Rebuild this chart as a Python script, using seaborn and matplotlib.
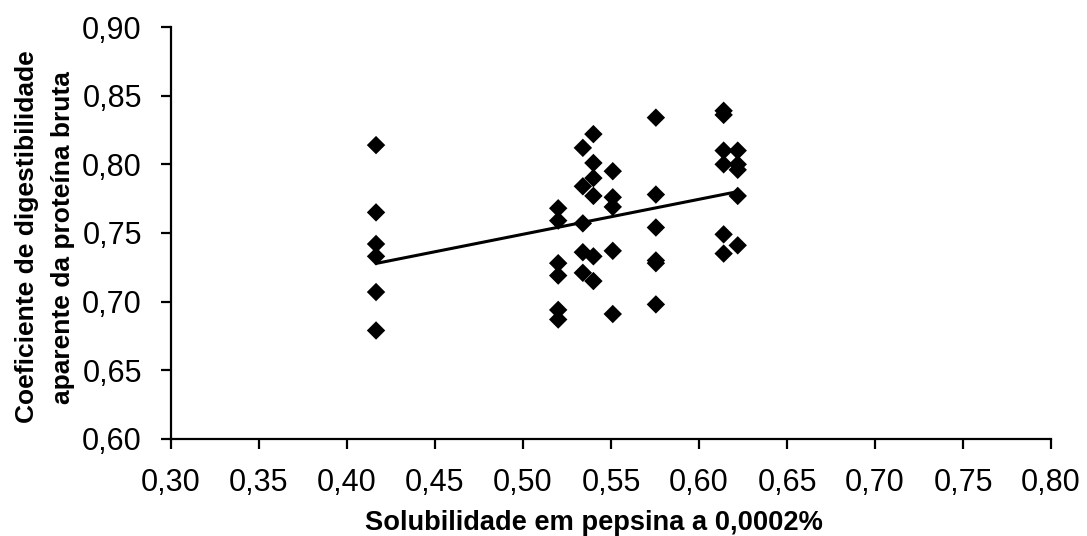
import numpy as np
import pandas as pd
import matplotlib
matplotlib.use('Agg')
import matplotlib.pyplot as plt
import seaborn as sns
from matplotlib.ticker import FuncFormatter

# valores (solubilidade, coeficiente de digestibilidade)
sol_041 = [0.4165] * 6
cd_041 = [0.814, 0.765, 0.742, 0.733, 0.707, 0.679]
sol_052 = [0.520] * 6
cd_052 = [0.768, 0.759, 0.728, 0.719, 0.694, 0.687]
sol_053 = [0.534] * 5
cd_053 = [0.812, 0.784, 0.757, 0.736, 0.721]
sol_054 = [0.540] * 6
cd_054 = [0.822, 0.801, 0.790, 0.777, 0.733, 0.715]
sol_055 = [0.551] * 5
cd_055 = [0.795, 0.776, 0.769, 0.737, 0.691]
sol_057 = [0.5755] * 6
cd_057 = [0.834, 0.778, 0.754, 0.730, 0.728, 0.698]
sol_061 = [0.614] * 6
cd_061 = [0.839, 0.836, 0.810, 0.800, 0.749, 0.735]
sol_062 = [0.622] * 5
cd_062 = [0.810, 0.800, 0.796, 0.777, 0.741]

x_ticks = [0.30, 0.35, 0.40, 0.45, 0.50, 0.55, 0.60, 0.65, 0.70, 0.75, 0.80]
y_ticks = [0.60, 0.65, 0.70, 0.75, 0.80, 0.85, 0.90]

df = pd.DataFrame({
    'sol': sol_041 + sol_052 + sol_053 + sol_054 + sol_055 + sol_057 + sol_061 + sol_062,
    'cd': cd_041 + cd_052 + cd_053 + cd_054 + cd_055 + cd_057 + cd_061 + cd_062,
})

sns.set_style('white')
plt.rcParams['font.family'] = ['Liberation Sans', 'DejaVu Sans']
plt.rcParams['text.color'] = 'black'
plt.rcParams['axes.labelcolor'] = 'black'

fig = plt.figure(figsize=(10.87, 5.36), dpi=100)
ax = fig.add_axes([0.1573, 0.181, 0.8096, 0.7686])

sns.regplot(data=df, x='sol', y='cd', ax=ax, ci=None, truncate=True,
            marker='D', color='black',
            scatter_kws={'s': 88, 'edgecolors': 'none', 'alpha': 1},
            line_kws={'color': 'black', 'lw': 2.2})

ax.set_xlim(0.30, 0.80)
ax.set_ylim(0.60, 0.90)
ax.set_xticks(x_ticks)
ax.set_yticks(y_ticks)
fmt = FuncFormatter(lambda v, p: f'{v:.2f}'.replace('.', ','))
ax.xaxis.set_major_formatter(fmt)
ax.yaxis.set_major_formatter(fmt)

for s in ['top', 'right']:
    ax.spines[s].set_visible(False)
for s in ['left', 'bottom']:
    ax.spines[s].set_color('black')
    ax.spines[s].set_linewidth(1.6)

ax.tick_params(axis='both', direction='out', length=7, width=1.6,
               color='black', labelsize=22, labelcolor='black')
ax.tick_params(axis='x', bottom=True, pad=14)
ax.tick_params(axis='y', left=True, pad=14)

ax.set_xlabel('Solubilidade em pepsina a 0,0002%', fontsize=19.6, fontweight='bold')
ax.xaxis.set_label_coords(0.481, -0.172)
ax.set_ylabel('Coeficiente de digestibilidade\naparente da proteína bruta',
              fontsize=19, fontweight='bold', linespacing=1.62)
ax.yaxis.set_label_coords(-0.109, 0.49)

fig.savefig('out.png', dpi=100)
